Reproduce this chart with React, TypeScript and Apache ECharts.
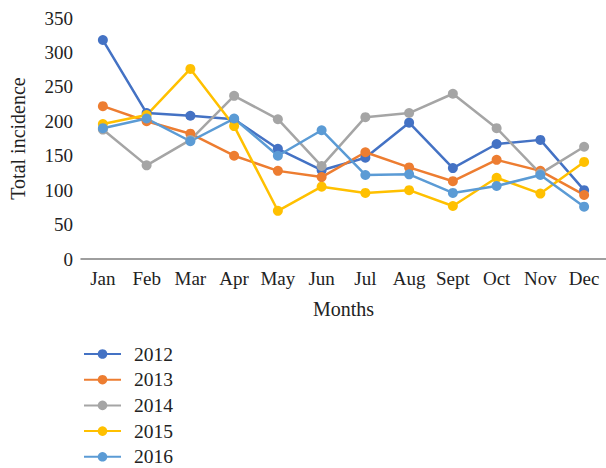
import React, { useEffect, useRef } from "react";
import * as echarts from "echarts";

const months = ["Jan", "Feb", "Mar", "Apr", "May", "Jun", "Jul", "Aug", "Sept", "Oct", "Nov", "Dec"];
const s2012 = [318, 212, 208, 203, 160, 129, 147, 198, 132, 167, 173, 100];
const s2013 = [222, 200, 182, 150, 128, 119, 155, 133, 113, 144, 128, 93];
const s2014 = [188, 136, 173, 237, 203, 135, 206, 212, 240, 190, 124, 163];
const s2015 = [196, 209, 276, 193, 70, 105, 96, 100, 77, 118, 95, 141];
const s2016 = [190, 204, 171, 204, 150, 187, 122, 123, 96, 106, 122, 76];

const seriesNames = ["2012", "2013", "2014", "2015", "2016"];
const seriesData = [s2012, s2013, s2014, s2015, s2016];
const colors = ["#4472C4", "#ED7D31", "#A5A5A5", "#FFC000", "#5B9BD5"];

const FONT = "Liberation Serif";
const TXT = "#222";

export default function App() {
  const ref = useRef<HTMLDivElement>(null);
  useEffect(() => {
    if (!ref.current) return;
    const chart = echarts.init(ref.current, undefined, { renderer: "svg" });
    chart.setOption({
      animation: false,
      color: colors,
      textStyle: { fontFamily: FONT },
      grid: { left: 80, right: 0, top: 18, bottom: 209, containLabel: false },
      legend: {
        orient: "vertical",
        left: 78,
        top: 339,
        height: 125,
        itemWidth: 37,
        itemHeight: 12,
        itemGap: 5.7,
        textStyle: { fontFamily: FONT, fontSize: 19.5, color: TXT, lineHeight: 20, padding: [0, 0, 0, 8] },
        data: seriesNames,
      },
      xAxis: {
        type: "category",
        data: months,
        boundaryGap: true,
        name: "Months",
        nameLocation: "middle",
        nameGap: 40,
        nameTextStyle: { fontFamily: FONT, fontSize: 20, color: TXT },
        axisLine: { lineStyle: { color: "#7f7f7f", width: 1.5 } },
        axisTick: { show: false },
        axisLabel: { fontFamily: FONT, fontSize: 19, color: TXT, margin: 10, interval: 0 },
        splitLine: { show: false },
      },
      yAxis: {
        type: "value",
        min: 0,
        max: 350,
        interval: 50,
        name: "Total incidence",
        nameLocation: "middle",
        nameGap: 53,
        nameTextStyle: { fontFamily: FONT, fontSize: 20, color: TXT },
        axisLine: { show: false },
        axisTick: { show: false },
        axisLabel: { fontFamily: FONT, fontSize: 19, color: TXT, margin: 8 },
        splitLine: { show: false },
      },
      series: seriesNames.map((n, i) => ({
        name: n,
        type: "line",
        data: seriesData[i],
        symbol: "circle",
        symbolSize: 10,
        lineStyle: { width: 2.5, color: colors[i] },
        itemStyle: { color: colors[i] },
      })),
    });
    return () => chart.dispose();
  }, []);
  return (
    <div
      ref={ref}
      style={{ position: "fixed", left: 0, top: 0, width: 606, height: 468, background: "#fff" }}
    />
  );
}
